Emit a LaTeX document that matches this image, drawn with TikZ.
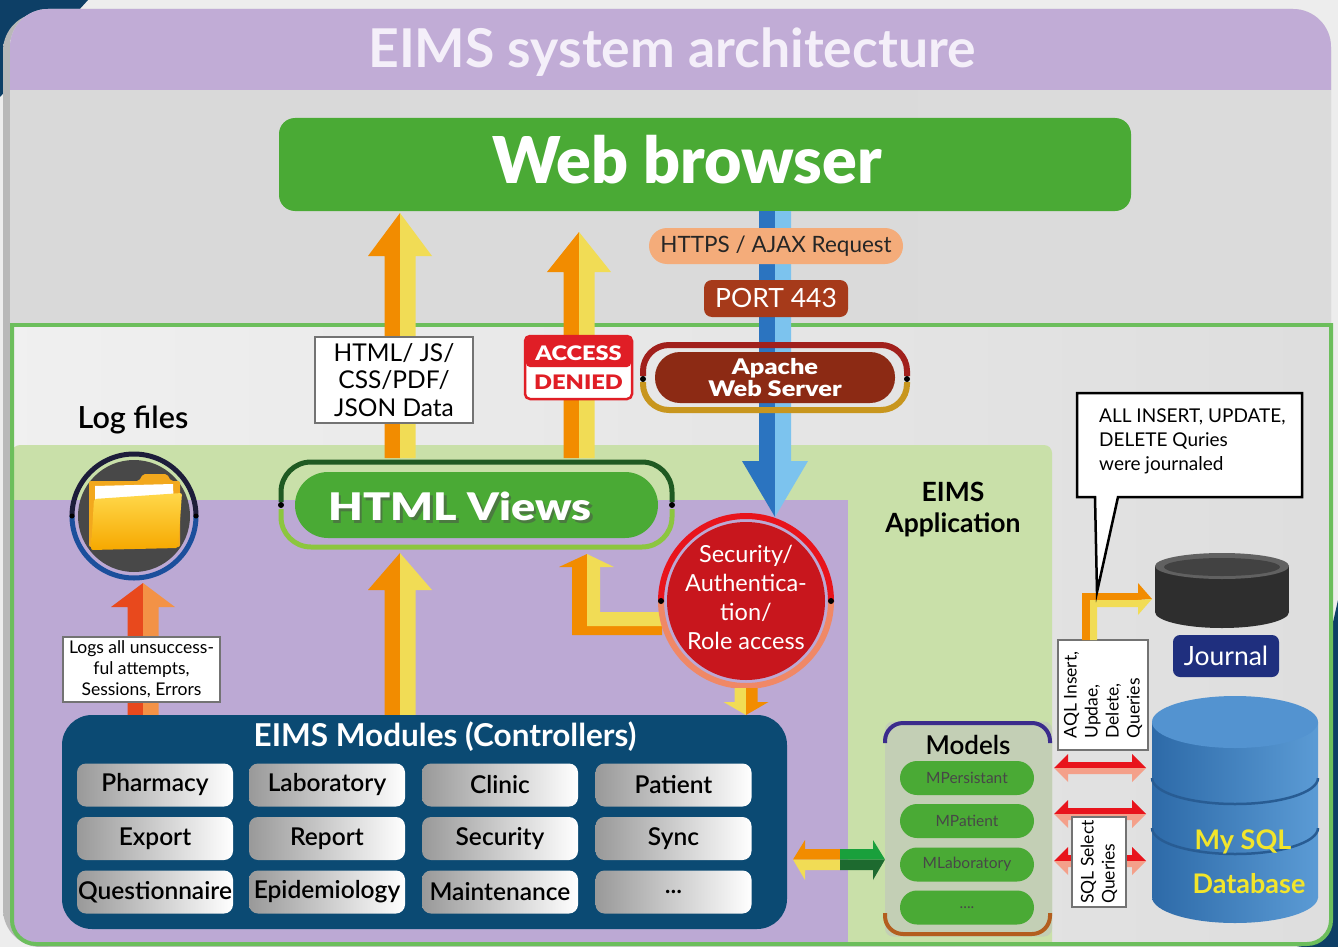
\documentclass[tikz,border=0pt]{standalone}
\usepackage{fontspec}
\setmainfont{Lato}
\newfontfamily\heavyfont{Lato Black}
\newfontfamily\semifont{Lato Semibold}
\newfontfamily\widefont{Lato Black}[FakeStretch=1.18]
\usetikzlibrary{calc}

\definecolor{panelpurple}{HTML}{C1ACD6}
\definecolor{titlewhite}{HTML}{F4EFF9}
\definecolor{navycorner}{HTML}{0D3F66}
\definecolor{browsergreen}{HTML}{4AAA35}
\definecolor{framegreen}{HTML}{6CBE5C}
\definecolor{appgreen}{HTML}{C9E0A9}
\definecolor{viewpurple}{HTML}{BCA9D4}
\definecolor{arroworange}{HTML}{F28C00}
\definecolor{arrowyellow}{HTML}{F1DC55}
\definecolor{bluedark}{HTML}{2B74C0}
\definecolor{bluelight}{HTML}{7CC3EE}
\definecolor{peach}{HTML}{F4AC7A}
\definecolor{portred}{HTML}{A63A1A}
\definecolor{apachebrown}{HTML}{8C2A14}
\definecolor{apachetop}{HTML}{A1201C}
\definecolor{apachebottom}{HTML}{C8961E}
\definecolor{deniedred}{HTML}{E01E26}
\definecolor{htmldark}{HTML}{1F5A22}
\definecolor{htmllight}{HTML}{8CC63F}
\definecolor{secred}{HTML}{C8161D}
\definecolor{secring}{HTML}{E8141C}
\definecolor{secsalmon}{HTML}{F08866}
\definecolor{logred}{HTML}{E8491D}
\definecolor{logorange}{HTML}{F39246}
\definecolor{iconring}{HTML}{1D1D3A}
\definecolor{iconblue}{HTML}{1B4F9C}
\definecolor{icongray}{HTML}{484848}
\definecolor{modnavy}{HTML}{0B4A73}
\definecolor{modelpanel}{HTML}{C3CFB5}
\definecolor{modeltop}{HTML}{3B2C8C}
\definecolor{modelbottom}{HTML}{B35E1E}
\definecolor{syncgreen}{HTML}{19A03C}
\definecolor{syncdark}{HTML}{1D6A2F}
\definecolor{queryred}{HTML}{E8141C}
\definecolor{querysalmon}{HTML}{F4A08A}
\definecolor{journalnavy}{HTML}{1F2F7E}
\definecolor{dbblue}{HTML}{3A79B7}
\definecolor{dbdark}{HTML}{2D6AA8}
\definecolor{dblight}{HTML}{5B9BD5}
\definecolor{dbtop}{HTML}{5393D0}
\definecolor{dbline}{HTML}{285C93}
\definecolor{dbyellow}{HTML}{F2E52B}
\definecolor{folderback}{HTML}{F2A81D}
\definecolor{folderfront}{HTML}{FFD84A}
\definecolor{folderdeep}{HTML}{F6A800}

% two-tone block arrow: tail, tip, left colour, right colour,
% half shaft width, half head width, signed head length
\newcommand\twotone[7]{%
  \fill[#3] ($(#1)+(-#5,0)$) -- ($(#2)+(-#5,#7)$) -- ($(#2)+(-#6,#7)$) -- (#2) -- (#1) -- cycle;
  \fill[#4] (#1) -- (#2) -- ($(#2)+(#6,#7)$) -- ($(#2)+(#5,#7)$) -- ($(#1)+(#5,0)$) -- cycle;}

% double-headed query arrow between the models and the database
\newcommand\queryarrow[1]{%
  \fill[queryred] (1054,#1) -- (1068,#1-14) -- (1068,#1-6) -- (1132,#1-6) -- (1132,#1-14) -- (1146,#1) -- cycle;
  \fill[querysalmon] (1054,#1) -- (1068,#1+14) -- (1068,#1+6) -- (1132,#1+6) -- (1132,#1+14) -- (1146,#1) -- cycle;}

\begin{document}
\begin{tikzpicture}[x=1pt,y=-1pt,
  txt/.style={inner sep=0pt, align=center},
  notebox/.style={draw=black!55, fill=white, line width=1.2pt, inner sep=0pt, text=black},
  modbtn/.style={rounded corners=9pt, minimum width=156pt, minimum height=43pt, inner sep=0pt,
     left color=black!40, right color=white, text=black, font=\semifont\fontsize{24.5}{26}\selectfont},
  modelpill/.style={fill=browsergreen, rounded corners=17pt, minimum width=134pt, minimum height=34pt,
     inner sep=0pt, text=black!72, font=\fontsize{15.5}{17}\selectfont},
  blackdot/.style={circle, fill=black, inner sep=0pt, minimum size=6pt},
]
\useasboundingbox (0,0) rectangle (1338,947);

% page and corner accents
\fill[black!7] (0,0) rectangle (1338,947);
\fill[navycorner] (0,0) -- (88,0) -- (0,97) -- cycle;
\fill[navycorner] (1338,600) -- (1338,947) -- (1260,947) -- cycle;

% outer panel with its title bar
\shade[rounded corners=38pt, left color=black!28, right color=black!10] (3,13) rectangle (1331,947);
\shade[rounded corners=38pt, left color=black!15, middle color=black!5, right color=black!14] (10,9) rectangle (1331,946);
\begin{scope}
  \clip (0,0) rectangle (1338,90);
  \fill[panelpurple, rounded corners=38pt] (10,9) rectangle (1331,200);
\end{scope}
\node[txt, text=titlewhite, font=\bfseries\fontsize{53.5}{56}\selectfont] (title) at (672,52) {EIMS system architecture};

% application frame with the view and application zones
\begin{scope}
  \clip (0,323) rectangle (1338,947);
  \begin{scope}
    \clip[rounded corners=24pt] (12,200) rectangle (1331,944);
    \shade[left color=black!6, middle color=black!2, right color=black!13] (12,325) rectangle (1331,944);
    \fill[appgreen, rounded corners=8pt] (12,445) rectangle (1052,960);
    \fill[viewpurple] (12,500) rectangle (848,944);
  \end{scope}
  \draw[framegreen, line width=4pt, rounded corners=24pt] (12,200) rectangle (1331,944);
\end{scope}
\draw[framegreen, line width=4pt] (10,325) -- (1333,325);

% web browser
\node[fill=browsergreen, rounded corners=16pt, minimum width=852pt, minimum height=93pt, inner sep=0pt] (browser) at (705,164.5) {};
\node[txt, text=white, font=\heavyfont\fontsize{64.5}{66}\selectfont] (browsertext) at (687,160) {Web browser};

% request from the browser down to the security layer
\coordinate (reqtail) at (775,211);
\coordinate (reqtip) at (775,517);
\twotone{reqtail}{reqtip}{bluedark}{bluelight}{16}{33}{-56}

\node[fill=peach, rounded corners=18pt, minimum width=254pt, minimum height=36pt, inner sep=0pt,
      font=\fontsize{22.5}{24}\selectfont, text=black!85] (https) at (776,246) {HTTPS / AJAX Request};
\node[fill=portred, rounded corners=8pt, minimum width=144pt, minimum height=37pt, inner sep=0pt,
      font=\fontsize{26.5}{28}\selectfont, text=white] (port) at (776,298.5) {PORT 443};

% apache web server
\draw[apachetop, line width=6pt, rounded corners=26pt] (643,376) -- (643,345) -- (907,345) -- (907,376);
\draw[apachebottom, line width=6pt, rounded corners=26pt] (643,382) -- (643,410) -- (907,410) -- (907,382);
\node[fill=apachebrown, rounded corners=25pt, minimum width=240pt, minimum height=51pt, inner sep=0pt,
      text=white, font=\widefont\fontsize{21.5}{22}\selectfont, align=center] (apache) at (775,377.5) {Apache\\Web Server};
\node[blackdot] (apl) at (643,379) {};
\node[blackdot] (apr) at (907,379) {};

% responses from the views up to the browser
\coordinate (dataTail) at (400,458);
\coordinate (dataTip) at (400,213);
\twotone{dataTail}{dataTip}{arroworange}{arrowyellow}{15.5}{32}{43}
\coordinate (denyTail) at (579,458);
\coordinate (denyTip) at (579,232);
\twotone{denyTail}{denyTip}{arroworange}{arrowyellow}{15.5}{32}{40}

\node[notebox, minimum width=158pt, minimum height=86pt, align=center,
      font=\fontsize{24.5}{27.5}\selectfont] (payload) at (394,380) {HTML/ JS/\\CSS/PDF/\\JSON Data};

\node[draw=deniedred, line width=2.5pt, fill=white, rounded corners=5pt, minimum width=107pt, minimum height=63pt, inner sep=0pt] (denied) at (578.5,367.5) {};
\fill[deniedred, rounded corners=4pt] (526,337) rectangle (631,367);
\node[txt, text=white, font=\widefont\fontsize{20}{22}\selectfont] (deniedA) at (578.5,353) {ACCESS};
\node[txt, text=deniedred, font=\widefont\fontsize{20}{22}\selectfont] (deniedB) at (578.5,382) {DENIED};

% html views
\draw[htmldark, line width=5pt, rounded corners=30pt] (281,502) -- (281,462) -- (672,462) -- (672,502);
\draw[htmllight, line width=5pt, rounded corners=30pt] (281,509) -- (281,547) -- (672,547) -- (672,509);
\node[fill=browsergreen, rounded corners=33pt, minimum width=363pt, minimum height=66pt, inner sep=0pt] (views) at (476.5,505) {};
\begin{scope}[transparency group, opacity=0.5]
  \node[txt, text=black!70, font=\widefont\fontsize{38}{40}\selectfont] (viewsshade) at (462.5,509) {HTML Views};
\end{scope}
\node[txt, text=white, font=\widefont\fontsize{38}{40}\selectfont] (viewstext) at (460,506) {HTML Views};
\node[blackdot] (vl) at (281,505) {};
\node[blackdot] (vr) at (672,505) {};

% controllers up to the views
\coordinate (ctrlTail) at (400,716);
\coordinate (ctrlTip) at (400,553);
\twotone{ctrlTail}{ctrlTip}{arroworange}{arrowyellow}{15.5}{32}{37}

% security back to the views
\fill[arroworange] (572,567) -- (572,635) -- (662,635) -- (662,626) -- (587,626) -- (587,567) -- cycle;
\fill[arrowyellow] (587,567) -- (587,626) -- (662,626) -- (662,612) -- (600,612) -- (600,567) -- cycle;
\coordinate (backTip) at (587,554);
\fill[arroworange] (559,567) -- (backTip) -- (587,567) -- cycle;
\fill[arrowyellow] (587,567) -- (backTip) -- (614,567) -- cycle;

% security / authentication
\begin{scope}
  \clip (640,490) rectangle (860,601);
  \draw[secring, line width=6pt] (746,601) circle[radius=85];
\end{scope}
\begin{scope}
  \clip (640,601) rectangle (860,710);
  \draw[secsalmon, line width=6pt] (746,601) circle[radius=85];
\end{scope}
\node[circle, fill=secred, minimum size=158pt, inner sep=0pt] (security) at (746,601) {};
\node[txt, text=white, font=\fontsize{23.5}{29}\selectfont] (sectext) at (746,597) {Security/\\Authentica-\\tion/\\Role access};
\node[blackdot] (sl) at (661,601) {};
\node[blackdot] (sr) at (831,601) {};

\coordinate (secTail) at (746,688);
\coordinate (secTip) at (746,715);
\twotone{secTail}{secTip}{arrowyellow}{arroworange}{11.5}{22.5}{-13}

% log files
\node[txt, text=black, font=\semifont\fontsize{30.5}{32}\selectfont] (logtitle) at (133,420) {Log files};
\begin{scope}
  \clip (60,440) rectangle (210,516);
  \draw[iconring, line width=5pt] (134,516) circle[radius=62];
\end{scope}
\begin{scope}
  \clip (60,516) rectangle (210,590);
  \draw[iconblue, line width=5pt] (134,516) circle[radius=62];
\end{scope}
\node[circle, fill=icongray, minimum size=112pt, inner sep=0pt] (logicon) at (134,516) {};
\node[blackdot, minimum size=5pt] (ll) at (72,516) {};
\node[blackdot, minimum size=5pt] (lr) at (196,516) {};
% folder symbol
\fill[folderback, rounded corners=2pt] (89,547) -- (89,481) -- (139,481) -- (143,474) -- (167,474) -- (171,481) -- (180,481) -- (180,547) -- cycle;
\fill[white] (95,486) -- (173,484) -- (175,540) -- (96,542) -- cycle;
\shade[top color=folderfront, bottom color=folderdeep, rounded corners=2pt] (94,499) -- (182,493) -- (178,548) -- (91,550) -- cycle;

\coordinate (logTail) at (143,716);
\coordinate (logTip) at (143,583);
\twotone{logTail}{logTip}{logred}{logorange}{15.5}{32}{24}
\node[notebox, minimum width=157pt, minimum height=65pt, align=center,
      font=\fontsize{17.5}{21}\selectfont] (lognote) at (141.5,669.5) {Logs all unsuccess-\\ful attempts,\\Sessions, Errors};

% controllers
\node[fill=modnavy, rounded corners=30pt, minimum width=725pt, minimum height=214pt, inner sep=0pt] (mods) at (424.5,822) {};
\node[txt, text=white, font=\bfseries\fontsize{31.5}{33}\selectfont] (modstitle) at (445,737) {EIMS Modules (Controllers)};
\node[modbtn] (m11) at (155,785) {Pharmacy};
\node[modbtn] (m12) at (327,785) {Laboratory};
\node[modbtn] (m13) at (500,785) {Clinic};
\node[modbtn] (m14) at (673.5,785) {Patient};
\node[modbtn] (m21) at (155,838.5) {Export};
\node[modbtn] (m22) at (327,838.5) {Report};
\node[modbtn] (m23) at (500,838.5) {Security};
\node[modbtn] (m24) at (673.5,838.5) {Sync};
\node[modbtn] (m31) at (155,892) {Questionnaire};
\node[modbtn] (m32) at (327,892) {Epidemiology};
\node[modbtn] (m33) at (500,892) {Maintenance};
\node[modbtn] (m34) at (673.5,892) {...};

% controllers <-> models
\fill[arroworange] (840,849) -- (805,849) -- (805,840) -- (793,859.5) -- (840,859.5) -- cycle;
\fill[arrowyellow] (840,859.5) -- (793,859.5) -- (805,880) -- (805,870) -- (840,870) -- cycle;
\fill[syncgreen] (840,849) -- (873,849) -- (873,840) -- (885,859.5) -- (840,859.5) -- cycle;
\fill[syncdark] (840,859.5) -- (885,859.5) -- (873,880) -- (873,870) -- (840,870) -- cycle;

% models
\node[fill=modelpanel, rounded corners=8pt, minimum width=167pt, minimum height=215pt, inner sep=0pt] (models) at (968.5,829) {};
\draw[modeltop, line width=4pt, rounded corners=18pt] (885,743) -- (885,723) -- (1050,723) -- (1050,743);
\draw[modelbottom, line width=4pt, rounded corners=18pt] (885,913) -- (885,934) -- (1050,934) -- (1050,913);
\node[txt, text=black, font=\semifont\fontsize{26}{28}\selectfont] (modelstitle) at (968,745) {Models};
\node[modelpill] (p1) at (967,778) {MPersistant};
\node[modelpill] (p2) at (967,821) {MPatient};
\node[modelpill] (p3) at (967,864.5) {MLaboratory};
\node[modelpill] (p4) at (967,907.5) {....};

% models <-> database
\queryarrow{768}
\queryarrow{814}
\queryarrow{861}

\node[notebox, rotate=90, minimum width=110pt, minimum height=90pt, align=left,
      font=\fontsize{17.5}{21}\selectfont] (aql) at (1103,695) {AQL Insert,\\Updae,\\Delete,\\Queries};
\node[notebox, rotate=90, minimum width=90pt, minimum height=54pt, align=left,
      font=\fontsize{17.5}{21}\selectfont] (sql) at (1099,862) {SQL Select\\Queries};

% write queries to the journal
\fill[arroworange] (1082,640) -- (1082,593) -- (1138,593) -- (1138,600) -- (1090,600) -- (1090,640) -- cycle;
\fill[arrowyellow] (1090,640) -- (1090,600) -- (1138,600) -- (1138,607) -- (1097,607) -- (1097,640) -- cycle;
\coordinate (jrnTip) at (1152,599);
\fill[arroworange] (1138,583) -- (jrnTip) -- (1138,600) -- cycle;
\fill[arrowyellow] (1138,600) -- (jrnTip) -- (1138,615) -- cycle;

% callout
\draw[black, line width=2.5pt, fill=white] (1077,393) -- (1302,393) -- (1302,497) -- (1118,497) -- (1097,592) -- (1095,497) -- (1077,497) -- cycle;
\node[txt, anchor=west, align=left, text=black, font=\fontsize{19}{24}\selectfont] (callout) at (1099,441) {ALL INSERT, UPDATE,\\DELETE Quries\\were journaled};

% journal
\fill[black!82] (1155,566) rectangle (1289,612);
\fill[black!82] (1222,612) ellipse[x radius=67, y radius=16];
\fill[black!62] (1222,566) ellipse[x radius=67, y radius=13];
\fill[black!74] (1222,567) ellipse[x radius=58, y radius=9];
\node[fill=journalnavy, rounded corners=7pt, minimum width=106pt, minimum height=42pt, inner sep=0pt,
      text=white, font=\fontsize{26.5}{28}\selectfont] (journal) at (1226,656) {Journal};

% database
\shade[left color=dbdark, middle color=dbblue, right color=dblight] (1152,722) rectangle (1318,897);
\shade[left color=dbdark, middle color=dbblue, right color=dblight] (1235,897) ellipse[x radius=83, y radius=26];
\begin{scope}
  \clip (1140,778) rectangle (1330,820);
  \draw[dbline, line width=2.5pt] (1235,778) ellipse[x radius=83, y radius=26];
\end{scope}
\begin{scope}
  \clip (1140,828) rectangle (1330,870);
  \draw[dbline, line width=2.5pt] (1235,828) ellipse[x radius=83, y radius=26];
\end{scope}
\fill[dbtop] (1235,722) ellipse[x radius=83, y radius=26];
\node[txt, text=dbyellow, font=\bfseries\fontsize{27}{29}\selectfont] (db1) at (1243,842) {My SQL};
\node[txt, text=dbyellow, font=\bfseries\fontsize{27}{29}\selectfont] (db2) at (1249,884) {Database};

% application zone label
\node[txt, text=black, font=\bfseries\fontsize{26.5}{31}\selectfont] (app) at (953,510) {EIMS\\Application};

\end{tikzpicture}
\end{document}
